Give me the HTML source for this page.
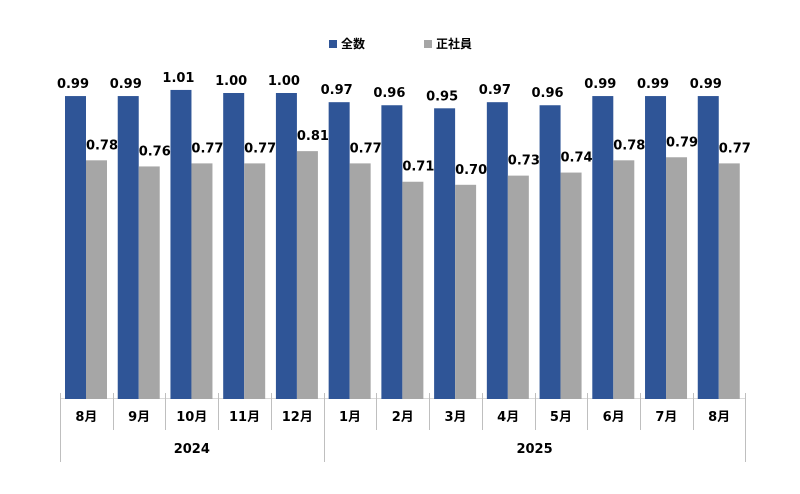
<!DOCTYPE html>
<html><head><meta charset="utf-8"><style>
html,body{margin:0;padding:0;background:#fff;width:800px;height:494px;overflow:hidden}
text{font-family:"DejaVu Sans","Liberation Sans","Noto Sans CJK JP",sans-serif;font-weight:bold;fill:#000}
</style></head><body>
<svg id="c" width="800" height="494" xmlns="http://www.w3.org/2000/svg">
<rect x="329" y="40" width="8" height="8" fill="#2f5597"/>
<text x="341" y="48" font-size="12">全数</text>
<rect x="424" y="40" width="8" height="8" fill="#a6a6a6"/>
<text x="436" y="48" font-size="12">正社員</text>
<line x1="60" y1="398.5" x2="745.5" y2="398.5" stroke="#d9d9d9" stroke-width="1"/>
</svg>
<script>
var s=document.getElementById('c'),ns='http://www.w3.org/2000/svg';
var b=[.99,.99,1.01,1.00,1.00,.97,.96,.95,.97,.96,.99,.99,.99];
var g=[.78,.76,.77,.77,.81,.77,.71,.70,.73,.74,.78,.79,.77];
var m=['8月','9月','10月','11月','12月','1月','2月','3月','4月','5月','6月','7月','8月'];
var p=52.73,base=399,k=306;
function el(t,a,txt){var e=document.createElementNS(ns,t);for(var i in a)e.setAttribute(i,a[i]);if(txt)e.textContent=txt;s.appendChild(e);return e;}
for(var i=0;i<13;i++){
 var L=60+i*p;
 var hb=b[i]*k,hg=g[i]*k;
 el('rect',{x:L+5,y:base-hb,width:21,height:hb,fill:'#2f5597'});
 el('rect',{x:L+26,y:base-hg,width:21,height:hg,fill:'#a6a6a6'});
 el('text',{x:L+13,y:base-hb-8,'font-size':13,'text-anchor':'middle'},b[i].toFixed(2));
 el('text',{x:L+42,y:base-hg-11,'font-size':13,'text-anchor':'middle'},g[i].toFixed(2));
 el('text',{x:L+p/2,y:421,'font-size':13,'text-anchor':'middle'},m[i]);
}
for(var i=0;i<=13;i++){
 var x=Math.round(60+i*p)+0.5;
 var long=(i==0||i==5||i==13);
 el('line',{x1:x,y1:393,x2:x,y2:long?462:430,stroke:'#bfbfbf','stroke-width':1});
}
el('text',{x:(60+323.65)/2,y:453,'font-size':13,'text-anchor':'middle'},'2024');
el('text',{x:(323.65+745.5)/2,y:453,'font-size':13,'text-anchor':'middle'},'2025');
</script>
</body></html>
